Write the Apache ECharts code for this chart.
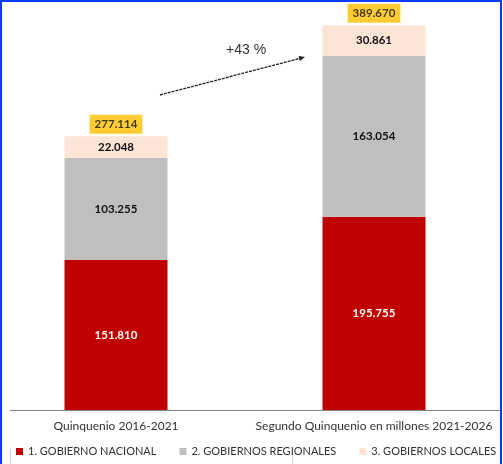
<!DOCTYPE html>
<html>
<head>
<meta charset="utf-8">
<script src="https://cdn.jsdelivr.net/npm/echarts@6/dist/echarts.min.js"></script>
<style>
  html, body { margin: 0; padding: 0; background: #fff; overflow: hidden; }
  #wrap { position: relative; width: 503px; height: 464px; overflow: hidden; }
  /* el área se corre 13px a la izquierda para centrar las barras como en el original */
  #chart { position: absolute; left: -13px; top: 0; width: 516px; height: 464px; }
</style>
</head>
<body>
<div id="wrap"><div id="chart"></div></div>
<script>
// valores en millones
var categories = ['Quinquenio 2016-2021', 'Segundo Quinquenio en millones 2021-2026'];
var seriesNames = ['1. GOBIERNO NACIONAL', '2. GOBIERNOS REGIONALES', '3. GOBIERNOS LOCALES'];
var nacional = [151810, 195755];
var regionales = [103255, 163054];
var locales = [22048, 30861];
var totales = [277114, 389670];
var growthText = '+43 %';

var FONT = 'Lato, "Open Sans", sans-serif';
var OX = 13; // desplazamiento del div

function fmt(v) {
    return String(v).replace(/\B(?=(\d{3})+(?!\d))/g, '.');
}

function barSerie(name, data, color, labelColor) {
    return {
        name: name,
        type: 'bar',
        stack: 'total',
        barWidth: 103,
        data: data,
        itemStyle: { color: color },
        label: {
            show: true,
            position: 'inside',
            color: labelColor,
            fontFamily: FONT,
            fontWeight: 'bold',
            fontSize: 11.5,
            formatter: function(p) { return fmt(p.value); }
        },
        emphasis: { disabled: true }
    };
}

// flecha punteada entre las barras
var tip = [305 + OX, 57], tail = [160 + OX, 95];
var dx = tip[0] - tail[0], dy = tip[1] - tail[1];
var len = Math.sqrt(dx * dx + dy * dy);
var ux = dx / len, uy = dy / len;
var head = [
    tip,
    [tip[0] - 6 * ux + 2.6 * uy, tip[1] - 6 * uy - 2.6 * ux],
    [tip[0] - 6 * ux - 2.6 * uy, tip[1] - 6 * uy + 2.6 * ux]
];

var chart = echarts.init(document.getElementById('chart'));

chart.setOption({
    animation: false,
    grid: { left: 0, right: 0, top: 15, bottom: 54 },
    xAxis: {
        type: 'category',
        data: categories,
        axisLine: { show: false },
        axisTick: { show: false },
        axisLabel: {
            interval: 0,
            margin: 10,
            color: '#333',
            fontFamily: FONT,
            fontSize: 12
        }
    },
    yAxis: {
        type: 'value',
        min: 0,
        max: 400000,
        show: false,
        splitLine: { show: false }
    },
    legend: {
        data: seriesNames,
        left: 16 + OX,
        bottom: 7,
        padding: 0,
        width: 500,
        icon: 'rect',
        itemWidth: 7,
        itemHeight: 7,
        itemGap: 23,
        textStyle: { color: '#333', fontFamily: FONT, fontSize: 11 }
    },
    series: [
        barSerie(seriesNames[0], nacional, '#C00000', '#fff'),
        barSerie(seriesNames[1], regionales, '#BFBFBF', '#111'),
        barSerie(seriesNames[2], locales, '#FCE4D6', '#111'),
        {
            name: 'Total',
            type: 'scatter',
            data: totales,
            symbolSize: 1,
            itemStyle: { color: 'rgba(0,0,0,0)' },
            label: {
                show: true,
                position: 'top',
                distance: 2,
                backgroundColor: '#FFC000',
                padding: [3, 5, 3, 5],
                lineHeight: 13,
                color: '#111',
                fontFamily: FONT,
                fontWeight: 'bold',
                fontSize: 11.5,
                formatter: function(p) { return fmt(p.value); }
            },
            emphasis: { disabled: true },
            silent: true
        }
    ],
    graphic: [
        {
            type: 'rect',
            shape: { x: 1 + OX, y: 1, width: 500, height: 470 },
            style: { fill: 'none', stroke: '#0a3cff', lineWidth: 2 },
            silent: true
        },
        {
            type: 'line',
            shape: { x1: 10 + OX, y1: 410.5, x2: 500 + OX, y2: 410.5 },
            style: { stroke: '#808080', lineWidth: 1 },
            silent: true
        },
        {
            type: 'line',
            shape: { x1: 10.5 + OX, y1: 449, x2: 10.5 + OX, y2: 464 },
            style: { stroke: '#d0d0d0', lineWidth: 1 },
            silent: true
        },
        {
            type: 'line',
            shape: { x1: 292.5 + OX, y1: 449, x2: 292.5 + OX, y2: 464 },
            style: { stroke: '#d0d0d0', lineWidth: 1 },
            silent: true
        },
        {
            type: 'line',
            shape: { x1: tail[0], y1: tail[1], x2: tip[0] - 4 * ux, y2: tip[1] - 4 * uy },
            style: { stroke: '#222', lineWidth: 1.3, lineDash: [3, 1] },
            silent: true
        },
        {
            type: 'polygon',
            shape: { points: head },
            style: { fill: '#222' },
            silent: true
        },
        {
            type: 'text',
            x: 226 + OX,
            y: 43,
            style: {
                text: growthText,
                fill: '#333',
                font: '14px "Liberation Sans", Arial, sans-serif'
            },
            silent: true
        }
    ]
});
</script>
</body>
</html>
